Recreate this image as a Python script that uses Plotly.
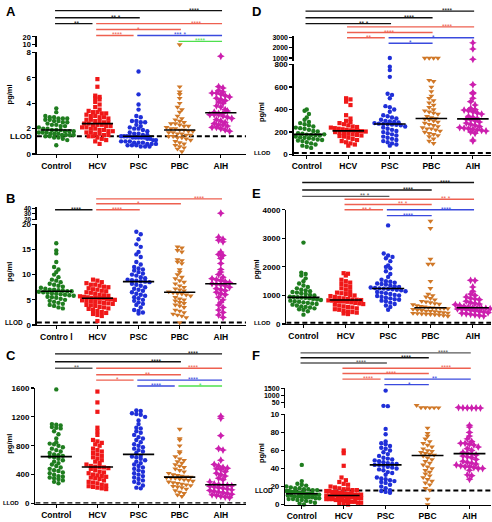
import numpy as np
import plotly.graph_objects as go

W, H = 492, 522

groups = ["Control", "HCV", "PSC", "PBC", "AIH"]
xlabels_default = ["Control", "HCV", "PSC", "PBC", "AIH"]
xlabels_B = ["Contro l", "HCV", "PSC", "PBC", "AIH"]

# ---------------- Panel A (pg/ml) ----------------
A_Control = [3.6, 3.3, 3.0, 2.9, 2.9, 2.8, 2.8, 2.8, 2.7, 2.7, 2.6, 2.6, 2.5, 2.5, 2.4, 2.3, 2.3, 2.2, 2.2, 2.1,
             2.0, 2.0, 1.9, 1.9, 1.9, 1.8, 1.8, 1.8, 1.7, 1.7, 1.7, 1.6, 1.6, 1.6, 1.5, 1.5, 1.5, 1.5, 1.4, 1.4,
             1.3, 1.3, 1.2, 1.1, 0.7]
A_HCV = [5.9, 5.3, 4.6, 4.5, 4.4, 4.3, 4.1, 3.9, 3.7, 3.5, 3.4, 3.3, 3.3, 3.2, 3.2, 3.1, 3.0, 3.0, 2.9, 2.9,
         2.8, 2.7, 2.7, 2.6, 2.6, 2.5, 2.5, 2.4, 2.4, 2.3, 2.3, 2.3, 2.2, 2.2, 2.1, 2.1, 2.0, 2.0, 1.9, 1.9,
         1.8, 1.8, 1.7, 1.7, 1.6, 1.6, 1.5, 1.5, 1.4, 1.4, 1.3, 1.2, 1.1, 1.0, 0.8]
A_PSC = [6.5, 4.7, 3.9, 3.5, 3.0, 2.9, 2.6, 2.6, 2.5, 2.5, 2.3, 2.2, 2.1, 2.0, 2.0, 1.9, 1.8, 1.7, 1.6, 1.6,
         1.5, 1.5, 1.4, 1.4, 1.4, 1.4, 1.3, 1.3, 1.3, 1.3, 1.3, 1.2, 1.2, 1.1, 1.1, 1.0, 1.0, 1.0, 0.9, 0.9,
         0.9, 0.8, 0.8, 0.8, 0.7, 0.7, 0.7, 0.6, 0.6, 0.6]
A_PBC = [9.5, 5.3, 4.9, 4.7, 4.4, 4.0, 3.7, 3.5, 3.3, 3.0, 2.8, 2.7, 2.6, 2.5, 2.4, 2.4, 2.3, 2.2, 2.2, 2.1,
         2.0, 2.0, 1.9, 1.9, 1.8, 1.8, 1.7, 1.7, 1.6, 1.6, 1.5, 1.5, 1.4, 1.4, 1.3, 1.3, 1.2, 1.1, 1.0, 0.9,
         0.8, 0.7, 0.6, 0.5, 0.4, 0.2]
A_AIH = [7.7, 5.3, 5.2, 5.0, 4.9, 4.8, 4.8, 4.7, 4.6, 4.5, 4.4, 4.3, 4.2, 4.1, 4.0, 3.8, 3.7, 3.5, 3.3, 3.2,
         3.1, 3.1, 3.1, 3.0, 2.9, 2.8, 2.7, 2.6, 2.5, 2.4, 2.3, 2.3, 2.2, 2.1, 2.1, 2.0, 1.9, 1.8, 3.2, 3.4]
A_LLOD = 1.4

# ---------------- Panel B ----------------
B_Control = [16.2, 14.8, 14.2, 12.5, 11.5, 11.0, 10.5, 10.0, 9.5, 9.0, 8.8, 8.5, 8.2, 8.0, 7.8, 7.6, 7.4, 7.2,
             7.0, 7.0, 6.9, 6.8, 6.7, 6.7, 6.6, 6.5, 6.4, 6.3, 6.2, 6.1, 6.0, 5.9, 5.8, 5.6, 5.5, 5.4, 5.2, 5.0,
             4.8, 4.6, 4.4, 4.2, 4.0, 3.8, 3.5, 3.3]
B_HCV = [9.0, 8.8, 8.5, 8.3, 8.0, 8.0, 7.8, 7.6, 7.5, 7.3, 7.1, 7.0, 6.8, 6.7, 6.5, 6.4, 6.2, 6.0, 5.9, 5.8,
         5.7, 5.6, 5.5, 5.4, 5.4, 5.3, 5.3, 5.2, 5.1, 5.0, 4.9, 4.8, 4.7, 4.6, 4.5, 4.4, 4.3, 4.2, 4.0, 3.9,
         3.8, 3.6, 3.5, 3.3, 3.2, 3.0, 2.8, 2.6, 2.4, 2.2, 2.0, 1.8, 0.8]
B_PSC = [18.5, 18.0, 17.0, 16.0, 15.5, 14.5, 14.0, 13.5, 12.5, 12.0, 11.5, 11.2, 11.0, 10.8, 10.5, 10.2, 10.0,
         9.8, 9.5, 9.3, 9.0, 8.9, 8.8, 8.7, 8.6, 8.5, 8.2, 8.0, 7.8, 7.5, 7.2, 7.0, 6.8, 6.5, 6.2, 6.0, 5.8,
         5.5, 5.3, 5.0, 4.8, 4.5, 4.2, 4.0, 3.5, 3.0, 2.8, 2.5, 2.3]
B_PBC = [15.5, 15.3, 14.8, 14.5, 13.0, 12.8, 12.5, 12.2, 11.0, 10.5, 10.0, 9.5, 9.2, 8.8, 8.5, 8.2, 7.8, 7.5,
         7.2, 7.0, 6.8, 6.6, 6.4, 6.3, 6.2, 6.0, 5.8, 5.5, 5.2, 5.0, 4.8, 4.5, 4.3, 4.0, 3.8, 3.5, 3.0, 2.8,
         2.5, 2.2, 2.0, 1.8, 1.5, 0.5]
B_AIH = [31.0, 17.4, 17.0, 16.8, 16.5, 14.5, 14.0, 13.8, 13.2, 12.2, 11.0, 10.5, 10.0, 9.5, 9.2, 9.0, 8.8, 8.6,
         8.4, 8.2, 8.1, 8.0, 7.8, 7.5, 7.2, 7.0, 6.8, 6.5, 6.2, 6.0, 5.5, 5.0, 4.5, 4.0, 3.5, 3.0, 2.5, 2.0, 1.5]
B_LLOD = 0.5

# ---------------- Panel C ----------------
C_Control = [1580, 1100, 1090, 1080, 1060, 1050, 1040, 1000, 960, 900, 850, 830, 820, 800, 780, 760, 740, 720,
             700, 680, 670, 660, 650, 640, 620, 600, 580, 560, 540, 520, 500, 480, 460, 450, 430, 420, 400, 380,
             370, 360, 350, 340, 320, 300, 280]
C_HCV = [1550, 1400, 1270, 1050, 1000, 950, 880, 860, 840, 820, 800, 760, 740, 720, 700, 680, 660, 640, 620, 600,
         580, 560, 540, 520, 510, 505, 500, 490, 480, 460, 440, 430, 420, 400, 390, 380, 370, 360, 350, 340, 320,
         300, 290, 280, 260, 250, 240, 230, 220, 210, 200]
C_PSC = [1290, 1280, 1250, 1240, 1230, 1200, 1150, 1100, 1050, 1040, 1000, 980, 950, 920, 900, 880, 850, 820,
         800, 780, 760, 740, 720, 700, 660, 650, 640, 620, 600, 580, 560, 540, 520, 500, 480, 460, 440, 420, 400,
         380, 360, 340, 320, 300, 280, 250, 220, 210]
C_PBC = [1030, 900, 880, 800, 720, 700, 650, 620, 600, 580, 560, 540, 520, 500, 480, 460, 440, 420, 400, 390,
         380, 370, 365, 360, 355, 350, 340, 330, 320, 310, 300, 290, 280, 270, 260, 250, 240, 230, 220, 200, 180,
         160, 140, 120, 100]
C_AIH = [1210, 1180, 940, 760, 740, 600, 540, 520, 500, 490, 480, 470, 440, 420, 400, 380, 350, 330, 300, 270,
         260, 255, 250, 245, 240, 230, 220, 210, 200, 190, 180, 170, 160, 150, 140, 130, 120, 110, 100, 90, 80]
C_LLOD = 5

# ---------------- Panel D ----------------
D_Control = [400, 390, 360, 330, 310, 290, 280, 270, 260, 250, 240, 235, 230, 220, 210, 205, 200, 195, 190, 185,
             178, 175, 172, 170, 165, 160, 155, 150, 145, 140, 135, 130, 125, 120, 110, 100, 90, 80, 70, 60, 180]
D_HCV = [500, 490, 470, 440, 350, 320, 300, 290, 280, 270, 260, 250, 245, 240, 235, 230, 225, 220, 215, 212,
         210, 208, 205, 200, 195, 190, 185, 180, 175, 170, 165, 160, 150, 140, 130, 120, 110, 100, 90, 80]
D_PSC = [1000, 780, 750, 690, 540, 530, 500, 430, 420, 400, 380, 350, 340, 330, 320, 310, 300, 295, 290, 285,
         280, 275, 272, 270, 268, 265, 260, 250, 240, 230, 220, 210, 200, 190, 180, 170, 160, 150, 140, 130, 120,
         110, 100, 90, 80]
D_PBC = [990, 990, 990, 990, 660, 650, 600, 560, 520, 500, 480, 460, 440, 420, 400, 390, 380, 370, 360, 340, 330,
         320, 315, 310, 300, 290, 280, 270, 260, 250, 240, 230, 230, 220, 210, 200, 190, 180, 170, 160, 140, 120, 100]
D_AIH = [2500, 1900, 870, 620, 550, 540, 500, 470, 440, 410, 400, 395, 390, 380, 370, 360, 340, 330, 320, 315,
         310, 300, 290, 280, 270, 260, 250, 240, 235, 230, 225, 220, 215, 210, 200, 190, 130, 120]
D_LLOD = 14

# ---------------- Panel E ----------------
E_Control = [2850, 1800, 1750, 1700, 1600, 1500, 1420, 1350, 1300, 1250, 1200, 1180, 1150, 1120, 1100, 1080, 1050,
             1020, 1000, 980, 960, 950, 940, 930, 920, 900, 880, 860, 840, 820, 800, 780, 760, 740, 720, 700, 680,
             650, 620, 600, 580, 550, 520, 500, 450, 330]
E_HCV = [1780, 1760, 1700, 1550, 1500, 1450, 1400, 1350, 1300, 1250, 1200, 1150, 1100, 1080, 1050, 1020, 1000,
         980, 950, 920, 900, 880, 860, 850, 840, 830, 820, 810, 800, 790, 780, 760, 740, 720, 700, 680, 650, 620,
         600, 580, 550, 520, 500, 470, 440, 420, 400, 370, 350]
E_PSC = [3450, 2470, 2400, 2350, 2300, 2200, 2050, 2000, 1950, 1850, 1750, 1650, 1550, 1500, 1480, 1450, 1420,
         1400, 1380, 1350, 1320, 1300, 1280, 1260, 1250, 1240, 1230, 1220, 1200, 1180, 1150, 1120, 1100, 1080,
         1050, 1020, 1000, 980, 950, 920, 900, 870, 850, 820, 800, 750, 700, 650, 600, 500]
E_PBC = [3600, 3350, 2270, 2100, 2100, 1500, 1250, 1050, 1000, 950, 900, 850, 800, 780, 750, 720, 700, 680, 650,
         620, 600, 580, 570, 560, 555, 550, 540, 520, 500, 480, 460, 450, 440, 420, 400, 390, 380, 370, 360, 350,
         340, 330, 320, 300, 280]
E_AIH = [1530, 1520, 1300, 1150, 1050, 1000, 950, 900, 880, 850, 800, 750, 720, 700, 680, 650, 620, 600, 570,
         560, 555, 550, 540, 530, 520, 500, 480, 460, 440, 420, 400, 380, 360, 340, 320, 300, 280]
E_LLOD = 50

# ---------------- Panel F ----------------
F_Control = [44, 26, 23, 22, 21, 20, 19, 18, 18, 17, 17, 16, 16, 15, 15, 15, 14, 14, 14, 13, 13, 13, 12, 12, 12,
             12, 11, 11, 11, 10, 10, 10, 9, 9, 9, 8, 8, 8, 7, 7, 6, 6, 5, 5, 4, 3, 2, 1, 0]
F_HCV = [60, 57, 43, 30, 27, 25, 23, 22, 20, 19, 18, 17, 17, 16, 16, 15, 15, 14, 14, 13, 13, 12, 12, 12, 11, 11,
         11, 10, 10, 10, 10, 9, 9, 9, 8, 8, 8, 7, 7, 7, 6, 6, 6, 5, 5, 5, 4, 4, 3, 3, 2, 2, 1, 1, 0]
F_PSC = [1350, 280, 260, 84, 78, 70, 68, 67, 65, 63, 62, 60, 58, 56, 54, 52, 51, 50, 49, 48, 47, 46, 45, 45, 44,
         44, 43, 42, 41, 40, 39, 38, 36, 35, 33, 30, 29, 28, 27, 26, 25, 24, 22, 20, 18, 16, 15, 14, 13]
F_PBC = [320, 160, 155, 150, 150, 145, 85, 79, 76, 73, 70, 68, 66, 64, 62, 60, 59, 58, 57, 56, 55, 54, 52, 50,
         48, 46, 44, 42, 40, 38, 36, 34, 32, 30, 28, 26, 24, 22, 18, 16, 6, 0]
F_AIH = [160, 140, 135, 130, 130, 125, 88, 86, 80, 76, 73, 70, 68, 68, 67, 66, 64, 62, 60, 58, 57, 56, 55, 54,
         53, 52, 50, 48, 47, 46, 45, 44, 43, 42, 42, 41, 40, 40, 38, 33, 32, 28]
F_LLOD = 15.5

# ---------------- Significance comparisons (from, to, label, colour, row from top) ----------------
A_sig = [("Control", "AIH", "****", "black", 0), ("Control", "PSC", "** *", "black", 1),
         ("Control", "HCV", "**", "black", 2), ("HCV", "AIH", "****", "red", 2),
         ("HCV", "PBC", "*", "red", 3), ("HCV", "PSC", "****", "red", 4),
         ("PSC", "AIH", "*** *", "blue", 4), ("PBC", "AIH", "****", "green", 5)]
B_sig = [("HCV", "AIH", "****", "red", 0), ("HCV", "PBC", "*", "red", 1),
         ("Control", "HCV", "****", "black", 2), ("HCV", "PSC", "****", "red", 2)]
C_sig = [("Control", "AIH", "****", "black", 0), ("Control", "PBC", "****", "black", 1),
         ("Control", "HCV", "**", "gray", 2), ("HCV", "AIH", "****", "red", 2),
         ("HCV", "PBC", "**", "red", 3), ("HCV", "PSC", "*", "red", 4),
         ("PSC", "AIH", "****", "blue", 4), ("PSC", "PBC", "****", "blue", 5),
         ("PBC", "AIH", "*", "green", 5)]
D_sig = [("Control", "AIH", "****", "black", 0), ("Control", "PBC", "****", "black", 1),
         ("Control", "PSC", "** *", "black", 2), ("HCV", "AIH", "****", "red", 3),
         ("HCV", "PBC", "****", "red", 4), ("HCV", "PSC", "**", "red", 5),
         ("PSC", "AIH", "*", "blue", 5), ("PSC", "PBC", "*", "blue", 6)]
E_sig = [("Control", "AIH", "****", "black", 0), ("Control", "PBC", "****", "black", 1),
         ("Control", "PSC", "** *", "gray", 2), ("HCV", "AIH", "** *", "red", 3),
         ("HCV", "PBC", "** *", "red", 4), ("HCV", "PSC", "** *", "red", 5),
         ("PSC", "AIH", "****", "blue", 5), ("PSC", "PBC", "****", "blue", 6)]
F_sig = [("Control", "AIH", "****", "gray", 0), ("Control", "PBC", "****", "black", 1),
         ("Control", "PSC", "****", "gray", 2), ("HCV", "AIH", "****", "red", 3),
         ("HCV", "PBC", "****", "red", 4), ("HCV", "PSC", "****", "red", 5),
         ("PSC", "AIH", "**", "blue", 5), ("PSC", "PBC", "*", "blue", 6)]

# ---------------- Styles ----------------
FONT = "Liberation Sans, Arial, sans-serif"
group_style = {
    "Control": dict(color="#1f7d1f", symbol="circle", size=4.4),
    "HCV": dict(color="#f01818", symbol="square", size=4.2),
    "PSC": dict(color="#1f2fd8", symbol="circle", size=4.4),
    "PBC": dict(color="#d07828", symbol="triangle-down", size=5.2),
    "AIH": dict(color="#cc1fae", symbol="star-diamond", size=5.6),
}
sig_colors = {"black": "#111111", "gray": "#5a5a5a", "red": "#ee6050",
              "blue": "#3a4ade", "green": "#4ee04e"}

PANELS = [
    dict(letter="A", data=[A_Control, A_HCV, A_PSC, A_PBC, A_AIH], sig=A_sig, llod=A_LLOD, xt=xlabels_default,
         left=35, right=245, cat0=54.5, step=41.3,
         main=dict(px=(152.7, 49.3), rng=(0, 8), tv=[0, 2, 4, 6, 8], tt=["0", "2", "4", "6", "8"]),
         upper=dict(px=(44, 32.5), rng=(6, 21.3), tv=[10, 20], tt=["10", "20"], fs=7.5),
         llod_x=32, llod_fs=8, sig_px=[6.7, 14, 20, 26, 32, 38], letter_xy=(2, 8), ylab_xy=(7, 92),
         star_at={("Control", "AIH"): 3.35, ("Control", "PSC"): 1.46, ("HCV", "AIH"): 3.4}),
    dict(letter="B", data=[B_Control, B_HCV, B_PSC, B_PBC, B_AIH], sig=B_sig, llod=B_LLOD, xt=xlabels_B,
         left=35, right=245, cat0=54.5, step=41.3,
         main=dict(px=(326.7, 224), rng=(0, 20), tv=[0, 5, 10, 15, 20], tt=["0", "5", "10", "15", "20"]),
         upper=dict(px=(220, 206.5), rng=(18.2, 42.7), tv=[20, 30, 40], tt=["20", "30", "40"], fs=6.5),
         llod_x=23, llod_fs=6.5, sig_px=[198.3, 203.3, 209.3], letter_xy=(2, 198), ylab_xy=(7.5, 272),
         star_at={("HCV", "AIH"): 3.48}),
    dict(letter="C", data=[C_Control, C_HCV, C_PSC, C_PBC, C_AIH], sig=C_sig, llod=C_LLOD, xt=xlabels_default,
         left=33.5, right=245, cat0=54.5, step=41.3,
         main=dict(px=(508.3, 390.7), rng=(0, 1600), tv=[0, 400, 800, 1200, 1600],
                   tt=["0", "400", "800", "1200", "1600"]),
         upper=None,
         llod_x=19.5, llod_fs=5.8, sig_px=[356, 364, 370.7, 377.3, 382.7, 388.7], letter_xy=(2, 358),
         ylab_xy=(7.5, 447),
         star_at={("Control", "AIH"): 3.33, ("Control", "PBC"): 2.43, ("HCV", "AIH"): 3.33,
                  ("HCV", "PBC"): 2.24, ("PSC", "AIH"): 3.33, ("PSC", "PBC"): 2.43}),
    dict(letter="D", data=[D_Control, D_HCV, D_PSC, D_PBC, D_AIH], sig=D_sig, llod=D_LLOD, xt=xlabels_default,
         left=293, right=491, cat0=306, step=41.7,
         main=dict(px=(153.3, 61.5), rng=(0, 800), tv=[0, 200, 400, 600, 800],
                   tt=["0", "200", "400", "600", "800"]),
         upper=dict(px=(58.5, 33), rng=(662, 3126), tv=[1000, 2000, 3000], tt=["1000", "2000", "3000"], fs=7),
         llod_x=272, llod_fs=6, sig_px=[7.3, 14, 20, 23.3, 29, 34.3, 40], letter_xy=(249, 8), ylab_xy=(260, 110),
         star_at={("Control", "AIH"): 3.39, ("Control", "PBC"): 2.47, ("Control", "PSC"): 1.39,
                  ("HCV", "AIH"): 3.39, ("PSC", "AIH"): 3.05}),
    dict(letter="E", data=[E_Control, E_HCV, E_PSC, E_PBC, E_AIH], sig=E_sig, llod=E_LLOD, xt=xlabels_default,
         left=285.5, right=491, cat0=302.7, step=42.5,
         main=dict(px=(325.7, 209.3), rng=(0, 4000), tv=[0, 1000, 2000, 3000, 4000],
                   tt=["0", "1000", "2000", "3000", "4000"]),
         upper=None,
         llod_x=272, llod_fs=6, sig_px=[181.7, 189.3, 195.7, 198.7, 204, 209.3, 215.3], letter_xy=(249, 193),
         ylab_xy=(255, 270),
         star_at={("Control", "AIH"): 3.36, ("Control", "PBC"): 2.47, ("Control", "PSC"): 1.45,
                  ("HCV", "AIH"): 3.37, ("HCV", "PBC"): 2.35, ("PSC", "AIH"): 3.37, ("PSC", "PBC"): 2.47}),
    dict(letter="F", data=[F_Control, F_HCV, F_PSC, F_PBC, F_AIH], sig=F_sig, llod=F_LLOD, xt=xlabels_default,
         left=284.5, right=491, cat0=301, step=42.1,
         main=dict(px=(509.3, 417.7), rng=(0, 100), tv=[0, 20, 40, 60, 80, 100],
                   tt=["0", "20", "40", "60", "80", "10"]),
         upper=dict(px=(411.5, 390.5), rng=(100, 1550), tv=[500, 1000, 1500], tt=["50", "1000", "1500"], fs=7),
         llod_x=274, llod_fs=6.5, sig_px=[355, 360, 365.3, 370.7, 376, 381.7, 387.3], letter_xy=(249, 358),
         ylab_xy=(260, 457),
         star_at={("Control", "AIH"): 3.37, ("Control", "PBC"): 2.49, ("Control", "PSC"): 1.43,
                  ("HCV", "AIH"): 3.44, ("HCV", "PBC"): 2.15, ("HCV", "PSC"): 1.58, ("PSC", "AIH"): 3.17,
                  ("PSC", "PBC"): 2.57}),
]


def ypaper(p):
    return 1 - p / H


def to_px(v, seg):
    (pb, pt), (r0, r1) = seg["px"], seg["rng"]
    return pb - (v - r0) * (pb - pt) / (r1 - r0)


def swarm(vals, P, bin_px=4.4, dot_px=4.4, max_half=17.5):
    vals = np.asarray(vals, float)
    pys = np.array([to_px(v, P["upper"] if (P["upper"] and v > P["main"]["rng"][1]) else P["main"])
                    for v in vals])
    rows = np.round(pys / bin_px)
    offs = np.zeros(len(vals))
    for r in np.unique(rows):
        idx = np.where(rows == r)[0]
        n = len(idx)
        step = dot_px if (n - 1) * dot_px <= 2 * max_half else 2 * max_half / (n - 1)
        offs[idx] = (np.arange(n) - (n - 1) / 2) * step
    return offs / P["step"]


axis_common = dict(showgrid=False, zeroline=False, showline=True, linecolor="black", linewidth=1.4,
                   ticks="outside", ticklen=3, tickwidth=1.2, tickcolor="black", fixedrange=True)
ytickfont = dict(family=FONT, size=8, color="black", weight="bold")

fig = go.Figure()
layout = dict(width=W, height=H, margin=dict(l=0, r=0, t=0, b=0), paper_bgcolor="white",
              plot_bgcolor="white", showlegend=False, font=dict(family=FONT, color="black"))
shapes, annotations = [], []
next_y = 7

for k, P in enumerate(PANELS):
    xid = k + 1
    xname = "x" if xid == 1 else f"x{xid}"
    xkey = "xaxis" if xid == 1 else f"xaxis{xid}"
    yname = "y" if xid == 1 else f"y{xid}"
    ykey = "yaxis" if xid == 1 else f"yaxis{xid}"
    xr = [(P["left"] - P["cat0"]) / P["step"], (P["right"] - P["cat0"]) / P["step"]]
    m = P["main"]
    layout[xkey] = dict(axis_common, domain=[P["left"] / W, P["right"] / W], range=xr, anchor=yname,
                        tickmode="array", tickvals=list(range(5)), ticktext=P["xt"],
                        tickfont=dict(family=FONT, size=8.5, color="black", weight="bold"))
    layout[ykey] = dict(axis_common, domain=[ypaper(m["px"][0]), ypaper(m["px"][1])], range=list(m["rng"]),
                        anchor=xname, tickmode="array", tickvals=m["tv"], ticktext=m["tt"], tickfont=ytickfont)
    uname = None
    if P["upper"]:
        u = P["upper"]
        uname = f"y{next_y}"
        layout[f"yaxis{next_y}"] = dict(axis_common, domain=[ypaper(u["px"][0]), ypaper(u["px"][1])],
                                        range=list(u["rng"]), anchor=xname, tickmode="array",
                                        tickvals=u["tv"], ticktext=u["tt"],
                                        tickfont=dict(ytickfont, size=u["fs"]))
        next_y += 1

    # LLOD dashed line
    fig.add_trace(go.Scatter(x=xr, y=[P["llod"], P["llod"]], mode="lines", xaxis=xname, yaxis=yname,
                             line=dict(color="black", width=2, dash="5px,3px"), hoverinfo="skip",
                             cliponaxis=False))

    for gi, (g, vals) in enumerate(zip(groups, P["data"])):
        vals_a = np.asarray(vals, float)
        xs = gi + swarm(vals_a, P)
        st = group_style[g]
        upmask = (vals_a > m["rng"][1]) if P["upper"] else np.zeros(len(vals_a), bool)
        mk = dict(color=st["color"], symbol=st["symbol"], size=st["size"], line=dict(width=0))
        fig.add_trace(go.Scatter(x=xs[~upmask], y=vals_a[~upmask], mode="markers", marker=mk,
                                 xaxis=xname, yaxis=yname, cliponaxis=False, hoverinfo="skip"))
        if upmask.any():
            fig.add_trace(go.Scatter(x=xs[upmask], y=vals_a[upmask], mode="markers", marker=mk,
                                     xaxis=xname, yaxis=uname, cliponaxis=False, hoverinfo="skip"))
        med = float(np.median(vals_a))
        fig.add_trace(go.Scatter(x=[gi - 0.38, gi + 0.38], y=[med, med], mode="lines",
                                 line=dict(color="black", width=1.6), xaxis=xname, yaxis=yname,
                                 hoverinfo="skip", cliponaxis=False))

    # significance bars
    for (a, b, lab, col, lvl) in P["sig"]:
        i, j = groups.index(a), groups.index(b)
        clash = any(s[0] == b and s[4] == lvl for s in P["sig"])
        x0, x1 = i - 0.03, j + 0.03 - (0.15 if clash else 0)
        yy = ypaper(P["sig_px"][lvl])
        shapes.append(dict(type="line", xref=xname, yref="paper", x0=x0, x1=x1, y0=yy, y1=yy,
                           line=dict(color=sig_colors[col], width=1.4)))
        sx = P["star_at"].get((a, b), (i + j) / 2)
        annotations.append(dict(x=sx, y=yy, xref=xname, yref="paper", text=lab, showarrow=False,
                                xanchor="center", yanchor="middle", yshift=0.5,
                                font=dict(family=FONT, size=6.5, color=sig_colors[col])))

    # panel letter, y title, LLOD label
    lx, ly = P["letter_xy"]
    annotations.append(dict(x=lx / W, y=ypaper(ly), xref="paper", yref="paper", text=P["letter"],
                            showarrow=False, xanchor="left", yanchor="middle",
                            font=dict(family=FONT, size=13, color="black", weight="bold")))
    yx, yy2 = P["ylab_xy"]
    annotations.append(dict(x=yx / W, y=ypaper(yy2), xref="paper", yref="paper", text="pg/ml",
                            showarrow=False, textangle=-90, xanchor="center", yanchor="middle",
                            font=dict(family=FONT, size=7.5, color="black", weight="bold")))
    llod_py = to_px(P["llod"], m)
    annotations.append(dict(x=P["llod_x"] / W, y=ypaper(llod_py), xref="paper", yref="paper", text="LLOD",
                            showarrow=False, xanchor="right", yanchor="middle",
                            font=dict(family=FONT, size=P["llod_fs"], color="black", weight="bold")))

layout["shapes"] = shapes
layout["annotations"] = annotations
fig.update_layout(**layout)
fig.write_html("out.html", config={"displayModeBar": False, "staticPlot": True},
               post_script="document.body.style.margin='0px';document.body.style.overflow='hidden';")
